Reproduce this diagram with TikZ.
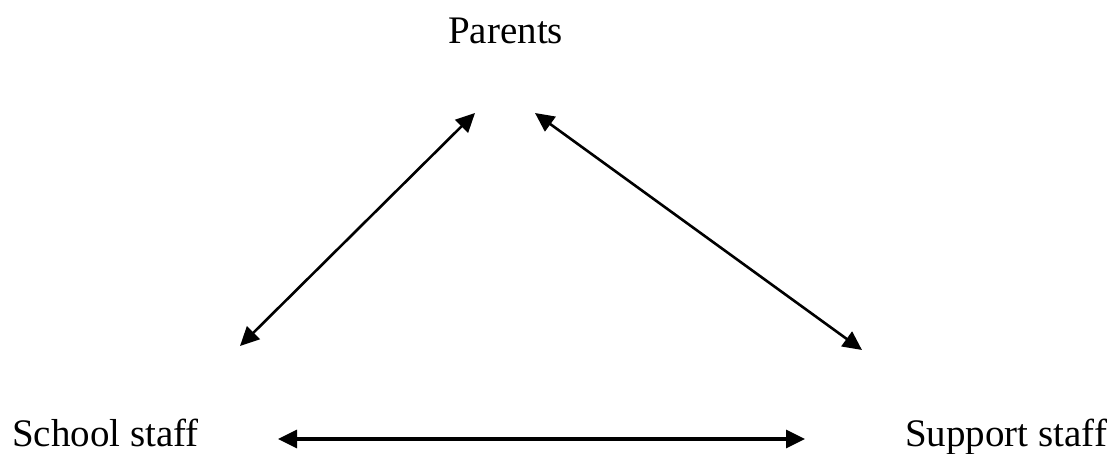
\documentclass[tikz,border=0pt]{standalone}
\usepackage{fontspec}
\setmainfont{Liberation Serif}
\usetikzlibrary{arrows.meta}
\begin{document}
\begin{tikzpicture}[x=1pt,y=-1pt,
  lbl/.style={anchor=base west,inner sep=0pt,font=\fontsize{39}{44}\selectfont},
  link/.style={line width=2.6pt,{Triangle[length=19pt,width=18pt]}-{Triangle[length=19pt,width=18pt]}}]
\useasboundingbox[fill=white] (0,0) rectangle (1110,453);
\node[lbl] (parents) at (448,43) {Parents};
\node[lbl] (school) at (12,446) {School staff};
\node[lbl] (support) at (905,446) {Support staff};
\coordinate (pl) at (475,113);
\coordinate (pr) at (535,113);
\coordinate (sl) at (240,346);
\coordinate (sr) at (862,350);
\coordinate (bl) at (278,439);
\coordinate (br) at (805,439);
\draw[link] (sl) -- (pl);
\draw[link] (pr) -- (sr);
\draw[link,line width=3.2pt] (bl) -- (br);
\end{tikzpicture}
\end{document}
